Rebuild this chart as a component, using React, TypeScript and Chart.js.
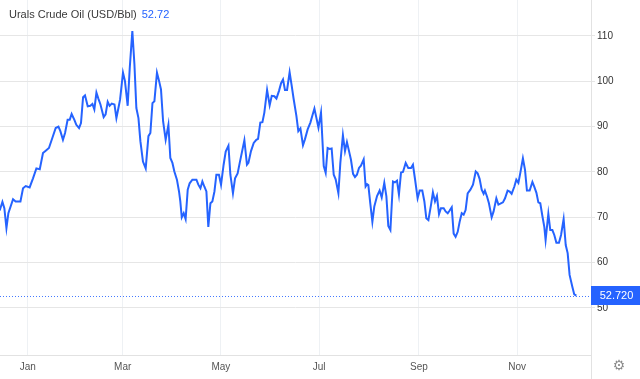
import { useEffect, useRef } from 'react';
import { Chart, registerables } from 'chart.js';

Chart.register(...registerables);

const seriesName = 'Urals Crude Oil (USD/Bbl)';
const monthLabels = ['Jan', 'Mar', 'May', 'Jul', 'Sep', 'Nov'];
// day offsets (from Jan 1) where each labelled month starts
const monthStartDays = [0, 59, 120, 181, 243, 304];
const yTickValues = [50, 60, 70, 80, 90, 100, 110];

// x: days since Jan 1 (negative = previous December)
const tradingDays = [
  -17.4, -15.7, -14.5, -13.2, -12.0, -9.1, -7.5, -4.5, -2.9, -1.2, 1.2, 3.3, 5.4, 7.5, 9.5, 11.2, 13.2, 15.3, 17.4, 19.1,
  20.3, 21.9, 23.2, 24.8, 26.1, 27.3, 29.0, 30.2, 31.9, 33.1, 34.4, 35.6, 37.3, 38.9, 40.2, 41.4, 42.7, 43.9, 45.2, 47.2,
  48.4, 49.7, 50.9, 52.2, 53.9, 55.1, 56.3, 57.4,
  59.2, 60.4, 62.1, 63.4, 65.0, 66.3, 67.5, 68.8, 70.0, 71.6, 73.3, 75.0, 76.2, 77.5, 78.7, 80.3, 81.6, 82.8, 84.1, 85.7,
  87.4, 88.6, 89.9, 91.1, 92.7, 94.0, 94.8, 95.7, 96.9, 98.1, 99.4, 100.6, 102.3, 104.8, 106.0, 107.3, 108.5, 109.7, 111.0, 112.2,
  113.5, 114.7, 116.0, 117.2, 118.8, 120.1, 121.7, 123.0, 124.7, 125.9, 127.5, 128.8, 130.4,
  131.7, 134.6, 136.2, 137.1, 138.7, 140.4, 142.0, 143.1, 144.5, 145.8, 147.0, 148.7, 150.3, 151.6, 153.2, 154.5, 156.1, 157.4,
  158.6, 159.8, 161.1, 162.7, 164.0, 165.2, 166.9, 168.1, 169.4, 171.0, 172.2, 173.9, 175.6, 176.8, 178.1, 179.3, 180.6, 182.2,
  183.9, 185.1, 186.3, 187.6, 188.8, 190.1, 191.3, 193.0, 194.2, 195.8, 197.1, 198.3, 199.6, 200.8, 202.1, 203.3, 204.5, 205.8,
  207.0, 208.7,
  209.9, 210.8, 211.6, 212.8, 214.1, 215.3, 217.0, 218.6, 219.9, 221.5, 222.8, 224.0, 225.3, 226.9, 228.1, 229.4, 230.6, 231.9,
  233.1, 234.8, 236.4, 238.1, 239.3, 240.6, 242.2, 243.5, 245.1, 246.4, 247.6, 248.9, 250.5, 251.7, 253.0, 254.2, 255.5, 256.7,
  258.4, 259.6, 260.9, 262.1, 263.4, 264.6, 265.8, 267.1, 268.3, 269.6, 270.8, 272.0, 273.3, 275.0, 276.6, 278.3, 279.5,
  280.7, 282.0, 283.2, 284.0, 285.3, 286.5, 288.2, 289.4, 291.1, 292.4, 293.6, 295.2, 296.5, 298.1, 299.4, 300.6, 302.3, 303.5,
  304.8, 306.0, 307.6, 308.9, 310.1, 311.8, 313.5, 314.7, 316.0, 317.2, 318.4, 319.7, 320.9, 321.7, 323.4, 324.6, 325.9, 327.1,
  328.4, 330.0, 331.3, 332.9, 334.2, 335.4, 336.6, 338.3, 339.5, 340.8,
];

const closePrices = [
  71.5, 73.4, 72.0, 67.6, 70.9, 74.0, 73.5, 73.5, 76.4, 76.9, 76.6, 78.6, 80.8, 80.6, 84.2, 84.7, 85.3, 87.5, 89.7, 90.0,
  89.0, 87.1, 88.6, 91.5, 91.5, 92.8, 91.5, 90.4, 89.7, 90.8, 96.5, 96.9, 94.5, 94.6, 95.0, 93.8, 97.5, 96.2, 94.9, 92.1,
  92.7, 95.5, 94.6, 95.1, 94.9, 91.9, 94.0, 96.0,
  101.9, 100.1, 94.6, 103.0, 111.1, 103.7, 94.1, 91.9, 86.8, 82.3, 80.8, 87.9, 88.6, 95.2, 95.6, 101.9, 100.1, 98.2, 91.2, 87.1,
  90.4, 83.1, 82.0, 80.1, 78.3, 75.7, 73.5, 70.0, 70.9, 69.6, 76.1, 77.5, 78.3, 78.3, 77.2, 76.4, 77.9, 76.8, 75.7, 67.9,
  73.1, 73.5, 75.7, 79.4, 79.4, 77.2, 81.6, 84.5, 85.8, 79.4, 75.3, 78.6, 79.7,
  82.0, 87.0, 81.6, 82.0, 84.6, 86.4, 87.1, 87.3, 90.9, 91.0, 93.1, 98.1, 94.7, 96.8, 96.7, 96.2, 97.9, 99.6,
  100.4, 98.1, 98.1, 102.0, 99.0, 96.1, 92.4, 89.0, 89.6, 85.9, 87.2, 89.4, 90.9, 92.4, 94.0, 92.0, 89.8, 93.1,
  81.3, 79.8, 85.3, 85.1, 85.2, 79.4, 78.4, 75.3, 82.0, 88.1, 84.6, 86.6, 84.6, 82.7, 79.6, 78.9, 79.4, 80.9,
  81.4, 82.8,
  76.8, 77.3, 77.1, 73.1, 69.0, 72.4, 74.7, 75.9, 74.4, 77.6, 74.6, 68.1, 67.2, 77.9, 77.7, 78.1, 75.0, 79.9,
  80.0, 82.0, 80.9, 80.9, 81.6, 78.4, 74.2, 75.9, 75.9, 73.5, 69.8, 69.4, 72.7, 75.5, 73.5, 74.7, 70.7, 72.0,
  72.0, 71.3, 70.9, 71.5, 72.2, 66.4, 65.7, 66.8, 69.0, 70.9, 70.6, 71.6, 75.3, 76.1, 77.2, 80.1, 79.7,
  78.5, 76.1, 75.2, 75.9, 74.6, 73.1, 70.0, 71.3, 74.2, 72.8, 73.0, 73.3, 74.2, 75.9, 75.7, 75.2, 76.8, 78.3,
  77.6, 79.8, 83.0, 80.5, 75.9, 75.9, 77.8, 76.7, 75.4, 73.3, 73.1, 70.3, 67.9, 65.0, 70.8, 67.2, 67.2, 66.1,
  64.4, 64.4, 66.1, 69.6, 63.9, 62.1, 57.3, 54.7, 53.0, 52.72,
];

const LINE_BLUE = '#2563ff';
const FONT = 'Arial, "Liberation Sans", sans-serif';

export default function App() {
  const canvasRef = useRef<HTMLCanvasElement>(null);

  useEffect(() => {
    document.body.style.margin = '0';
    const canvas = canvasRef.current;
    if (!canvas) return;
    const last = closePrices[closePrices.length - 1];

    const overlay = {
      id: 'overlay',
      beforeDatasetsDraw(chart: any) {
        const { ctx, chartArea } = chart;
        const y = Math.round(chart.scales.y.getPixelForValue(last)) + 0.5;
        ctx.save();
        ctx.strokeStyle = 'rgba(37, 99, 255, 0.85)';
        ctx.lineWidth = 1;
        ctx.setLineDash([1, 2]);
        ctx.beginPath();
        ctx.moveTo(chartArea.left, y);
        ctx.lineTo(chartArea.right, y);
        ctx.stroke();
        ctx.restore();
      },
      afterDraw(chart: any) {
        const { ctx, chartArea, width, height } = chart;
        ctx.save();
        const bx = Math.round(chartArea.right) + 0.5;
        ctx.strokeStyle = '#e2e2e2';
        ctx.lineWidth = 1;
        ctx.beginPath();
        ctx.moveTo(bx, 0);
        ctx.lineTo(bx, height);
        ctx.stroke();

        const y = chart.scales.y.getPixelForValue(last);
        ctx.fillStyle = LINE_BLUE;
        ctx.fillRect(chartArea.right, Math.round(y - 9.5), width - chartArea.right, 19);
        ctx.fillStyle = '#ffffff';
        ctx.font = `11px ${FONT}`;
        ctx.textAlign = 'center';
        ctx.textBaseline = 'middle';
        ctx.fillText(last.toFixed(3), (chartArea.right + width) / 2 + 1, y + 0.5);

        ctx.fillStyle = '#8c8c8c';
        ctx.font = '14px "DejaVu Sans", sans-serif';
        ctx.fillText('\u2699', 619, 366);
        ctx.restore();
      },
    };

    const chart = new Chart(canvas, {
      type: 'line',
      data: {
        datasets: [
          {
            label: seriesName,
            data: tradingDays.map((d, i) => ({ x: d, y: closePrices[i] })),
            borderColor: LINE_BLUE,
            borderWidth: 2,
            pointRadius: 0,
            tension: 0,
            fill: false,
          },
        ],
      },
      options: {
        animation: false,
        responsive: false,
        devicePixelRatio: 1,
        layout: { padding: 0 },
        plugins: { legend: { display: false }, tooltip: { enabled: false }, title: { display: false } },
        scales: {
          x: {
            type: 'linear',
            min: -17.2,
            max: 349.9,
            afterBuildTicks: (s: any) => {
              s.ticks = monthStartDays.map((v) => ({ value: v }));
            },
            afterFit: (s: any) => {
              s.height = 24;
              s.paddingLeft = 0;
              s.paddingRight = 0;
            },
            grid: { color: '#eef1f4', drawTicks: false },
            border: { color: '#e2e2e2' },
            ticks: {
              autoSkip: false,
              maxRotation: 0,
              padding: 6,
              color: '#555555',
              font: { family: FONT, size: 10 },
              callback: (_v: any, i: number) => monthLabels[i] ?? '',
            },
          },
          y: {
            position: 'right',
            min: 39.63,
            max: 117.94,
            afterBuildTicks: (s: any) => {
              s.ticks = yTickValues.map((v) => ({ value: v }));
            },
            afterFit: (s: any) => {
              s.width = 49;
              s.paddingTop = 0;
              s.paddingBottom = 0;
            },
            grid: { color: '#e6e6e6', drawTicks: true, tickLength: 4, tickColor: '#e6e6e6' },
            border: { display: false },
            ticks: { color: '#333333', padding: 2, font: { family: FONT, size: 10 } },
          },
        },
      },
      plugins: [overlay],
    });

    return () => chart.destroy();
  }, []);

  const last = closePrices[closePrices.length - 1];

  return (
    <div style={{ position: 'fixed', left: 0, top: 0, width: 640, height: 379, background: '#fff' }}>
      <canvas ref={canvasRef} width={640} height={379} style={{ display: 'block' }} />
      <div
        style={{
          position: 'absolute',
          left: 9,
          top: 8,
          fontFamily: FONT,
          fontSize: 11,
          color: '#3a3a3a',
          whiteSpace: 'nowrap',
          pointerEvents: 'none',
        }}
      >
        <span>{seriesName}</span>
        <span style={{ color: LINE_BLUE, marginLeft: 5 }}>{last.toFixed(2)}</span>
      </div>
    </div>
  );
}
